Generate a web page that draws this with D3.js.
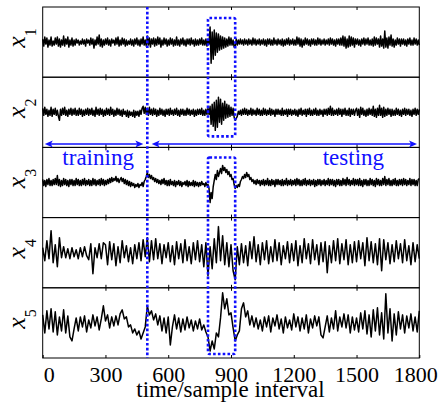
<!DOCTYPE html>
<html><head><meta charset="utf-8">
<script src="https://cdn.jsdelivr.net/npm/d3@7"></script>
<style>body{margin:0;background:#fff}svg{display:block}</style>
</head><body><svg id="c" width="444" height="405"></svg>
<script>
// x1..x3 sampled every 5 time steps, x4..x5 every 10 time steps, t = 0 .. 1800
const x1 = [3,-4,5,-2,4,-5,2,-3,5,-4,1,-3,4,-2,5,
-4,3,-5,2,-3,6,-4,3,-2,5,-5,2,-3,4,-4,
2,-3,3,-1,2,-3,1,-2,3,-2,2,-4,3,-1,2,
-3,4,-2,3,-6,2,-3,5,-2,7,-4,3,-5,2,-3,
3,-2,4,-3,2,-4,3,-1,2,-3,4,-2,5,-4,2,
-3,4,-2,3,-4,2,-3,1,-2,3,-3,2,-4,3,-2,
4,-3,2,-4,3,-2,5,-3,2,-4,6,-3,4,-5,3,
-2,4,-4,3,-3,5,-2,4,-5,2,-3,4,-2,3,-4,
2,-3,4,-2,3,-4,2,-3,5,-3,2,-4,3,-2,4,
-3,2,-4,3,-2,3,-3,4,-2,2,-4,3,-3,2,-3,
3,-2,4,-3,2,-3,3,-4,2,-2,15,-21,10,-17,12,
-13,9,-10,8,-8,6,-7,5,-6,4,-5,3,-4,5,-3,
4,-3,2,-5,-4,3,-3,2,-2,3,-2,2,-3,3,-2,
2,-3,3,-2,2,-3,4,-2,3,-3,2,-2,3,-3,2,
-2,3,-3,2,-4,3,-2,3,-3,2,-3,4,-2,2,-3,
3,-2,2,-3,3,-4,2,-3,3,-2,4,-3,2,-2,3,
-3,2,-3,5,-2,4,-4,3,-5,2,-3,4,-2,3,-3,
2,-4,3,-2,3,-3,2,-3,4,-2,3,-3,2,-2,3,
-3,2,-2,3,-3,4,-2,3,-3,2,-4,3,-2,3,-3,
4,-3,6,-4,5,-6,3,-5,6,-4,5,-3,4,-5,3,
-2,3,-3,2,-4,3,-2,4,-3,3,-2,4,-3,2,-3,
3,-4,5,-3,4,-2,3,-5,6,-4,3,-6,11,-5,4,
-6,5,-3,7,-4,3,-5,2,-3,4,-2,3,-4,3,-2,
3,-3,2,-4,3,-2,4,-3,2,-3,4,-2,3,-3,2,
-3];
const x2 = [4,-3,5,-2,3,-4,2,-3,5,-4,3,-2,4,-3,2,
-4,-8,3,-3,4,-2,5,-3,2,-4,3,-2,4,-3,3,
-2,4,-3,2,-3,4,-2,3,-4,2,-3,3,-2,4,-3,
3,-2,4,-3,2,-4,5,-2,3,-3,4,-2,3,-4,2,
-3,4,-2,3,-3,5,-2,3,-4,2,-3,4,-2,3,-3,
2,-4,3,-2,1,-4,2,-5,1,-3,0,-4,2,-5,1,
-3,1,-4,2,-2,4,6,-1,5,-2,4,-3,5,-2,3,
-3,4,-2,3,-4,2,-3,4,-2,3,-3,2,-4,3,-2,
3,-3,4,-2,2,-3,3,-2,4,-3,2,-4,3,-2,3,
-3,2,-3,4,-2,3,-3,2,-2,3,-4,2,-3,3,-2,
3,-2,4,-3,2,-3,3,-2,4,-2,6,-12,8,-14,10,
-18,12,-15,15,-10,13,-12,9,-8,11,-6,8,-5,7,-4,
5,-3,4,-5,-8,-6,-4,1,-2,2,-3,3,-2,4,-2,
3,-3,2,-2,4,-3,3,-2,2,-3,4,-2,3,-3,2,
-3,4,-2,3,-3,2,-2,4,-3,3,-2,2,-4,3,-2,
3,-2,2,-3,4,-3,2,-2,3,-4,3,-2,3,-3,2,
-2,3,-3,2,-4,3,-2,4,-3,2,-2,3,-4,3,-2,
4,-3,2,-3,3,-2,4,-3,2,-3,3,-2,2,-4,3,
-2,3,-3,4,-2,6,-3,4,-3,2,-2,3,-3,4,-2,
3,-4,3,-2,4,-3,2,-3,4,-4,3,-2,3,-3,2,
4,-3,3,-5,5,-2,4,-3,2,-4,3,-3,4,-2,3,
-3,6,-4,3,-5,4,-3,7,-3,4,-5,5,-4,3,-3,
4,-2,3,-4,3,-3,2,-3,4,-2,3,-3,2,-4,3,
-2,4,-3,3,-2,3,-3,2,-4,3,-2,4,-3,3,-2,
3];
const x3 = [3,-3,2,-4,3,-2,4,-3,2,-3,3,-2,4,-2,7,
-3,3,-4,2,-3,4,-2,3,-3,2,-4,3,-2,3,-3,
2,-3,4,-2,3,-3,2,-3,3,-2,4,-3,2,-2,3,
-3,2,-3,4,-2,3,-3,2,-2,3,-3,4,-2,3,-3,
2,-2,3,-1,4,0,5,1,4,2,6,1,4,0,3,
5,1,4,-1,3,-2,2,-3,1,-4,0,-3,-1,-5,-2,
-4,-1,-5,-2,-3,0,-4,1,3,6,10,5,8,4,7,
3,5,1,4,0,3,-1,2,-2,3,-1,4,-2,2,-3,
2,-3,3,-2,1,-3,2,-4,1,-2,2,-3,1,-4,0,
-2,1,-3,2,-4,1,-3,0,-3,2,-4,1,-3,0,-4,
0,-3,1,-2,-1,-4,0,-3,-2,-6,-20,-10,-16,-4,2,
8,3,12,6,10,14,9,17,12,15,10,13,8,11,6,
8,3,4,-2,-6,-3,-5,-2,-4,1,3,6,4,8,5,
10,6,8,3,5,1,3,-1,2,-2,3,-1,2,-3,2,
-2,3,-3,2,-2,4,-3,2,-3,3,-2,2,-4,3,-2,
3,-2,2,-3,3,-3,2,-2,4,-3,2,-2,3,-3,2,
-2,3,-3,4,-2,3,-3,2,-3,3,-2,4,-3,2,-2,
3,-3,2,-2,3,-4,2,-3,3,-2,3,-3,2,-2,3,
-3,2,-2,4,-3,3,-2,3,-3,2,-4,3,-2,3,-3,
2,-3,4,-2,3,-3,5,-2,3,-3,2,-2,4,-3,3,
-2,3,-3,4,-3,2,-4,3,-2,3,-3,2,-3,4,-2,
3,-3,2,-4,4,-2,3,-3,2,-3,4,-2,6,-3,3,
-2,4,-3,2,-3,3,-2,4,-3,2,-3,3,-2,3,-3,
4,-2,3,-3,2,-2,4,-3,3,-2,3,-3,2,-3,3,
4];
const x4 = [5,-8,12,-6,22,-10,8,-14,15,-5,6,-5,4,-6,5,
-4,3,-6,5,-4,6,-3,-7,9,-21,5,-5,9,-6,10,
8,-12,11,-7,9,-13,6,-10,12,-5,7,-9,5,-11,8,
-6,10,-8,13,-4,15,-9,12,-7,14,-6,9,-11,8,-5,
10,-9,7,-12,11,-6,9,-10,13,-8,6,-11,10,-7,12,
-9,8,-14,10,-23,6,-16,14,-10,26,-8,17,-12,10,-14,
8,-18,-27,6,-12,9,-10,7,-13,11,-6,16,-9,8,-12,
10,-7,12,-11,6,-9,13,-8,10,-12,7,-6,11,-10,9,
-8,12,-13,7,-10,14,-6,9,-11,13,-7,8,-12,10,-9,
11,-20,7,-10,12,-8,14,-11,9,-7,13,-12,8,-10,11,
-9,12,-6,10,-13,15,-8,11,-10,9,-12,14,-18,13,-7,
10,-11,8,-9,12,-6,9,-10,13,-8,7,-12,10,-9,8,-6];
const x5 = [8,-10,12,-6,14,-9,11,-12,6,-8,13,-10,7,-14,-18,
-6,5,-8,6,-4,7,-9,3,-5,8,-3,6,-7,4,17,
2,8,-5,6,-3,7,-2,9,13,4,6,-4,-2,-10,-6,
-12,-8,-16,-10,-4,17,8,12,3,9,-2,7,-8,5,-10,
6,-22,-4,8,-6,5,-9,4,-7,6,-5,3,-8,2,-6,
4,-7,-2,-9,-14,-28,-18,-26,-10,-14,5,30,14,24,8,
10,-5,-18,-12,-8,14,20,6,12,-2,7,-4,5,-6,3,
-8,6,-4,7,-9,5,-3,8,-6,4,-10,6,-5,3,-7,
9,-4,6,-8,5,-6,8,-10,4,-5,7,-3,6,-12,-15,
-4,7,-9,5,-6,12,-8,6,-4,9,-5,8,-10,6,-7,
5,-9,10,-6,12,-11,8,-14,13,-8,15,-12,10,-16,29,
-10,14,-18,9,-12,11,-6,8,-10,7,-5,9,-8,6,-9,12];

const seriesList = [x1, x2, x3, x4, x5];
const seriesLabels = ["1", "2", "3", "4", "5"];
const xTicks = [0, 300, 600, 900, 1200, 1500, 1800];
const xLabel = "time/sample interval";
const splitAt = 500;
const anomaly = [790, 920];
const trainSpan = [10, 481];
const testSpan = [521, 1789];
const trainText = {t: 265, label: "training"};
const testText = {t: 1485, label: "testing"};

(function () {
const svg = d3.select("#c");
const blue = "#1010ff";
const serif = "'Liberation Serif','Times New Roman',serif";
const pLeft = 42.7, pRight = 419.3, pTop = 7, pBottom = 358;
const nP = seriesList.length;
const ph = (pBottom - pTop) / nP;
const x = d3.scaleLinear().domain([0, 1800]).range([pLeft, pRight]);

const yScales = seriesList.map((s, i) =>
  d3.scaleLinear().domain([-35, 35]).range([pTop + (i + 1) * ph, pTop + i * ph]));

seriesList.forEach((s, i) => {
  const y = yScales[i];
  const n = s.length;
  const line = d3.line().x((d, j) => x(j * 1800 / (n - 1))).y(d => y(d));
  svg.append("path").datum(s).attr("d", line)
    .attr("fill", "none").attr("stroke", "#000").attr("stroke-width", 1.5)
    .attr("stroke-linejoin", "round");
});

seriesList.forEach((s, i) => {
  const y0 = pTop + i * ph, y1 = pTop + (i + 1) * ph;
  svg.append("rect").attr("x", pLeft).attr("y", y0).attr("width", pRight - pLeft).attr("height", y1 - y0)
    .attr("fill", "none").attr("stroke", "#000").attr("stroke-width", 1);
  const inner = xTicks.slice(1, -1);
  svg.append("g").attr("transform", `translate(0,${y0})`)
    .call(d3.axisTop(x).tickValues(inner).tickSize(-3).tickSizeOuter(0).tickFormat(""))
    .call(g => g.select(".domain").remove());
  const gb = svg.append("g").attr("transform", `translate(0,${y1})`)
    .call(d3.axisBottom(x).tickValues(i === nP - 1 ? xTicks : inner).tickSize(-3).tickSizeOuter(0)
      .tickPadding(8).tickFormat(d3.format("d")))
    .call(g => g.select(".domain").remove());
  if (i !== nP - 1) gb.selectAll("text").remove();
  else {
    gb.selectAll("text").attr("font-family", serif).attr("font-size", 22).attr("fill", "#000")
      .attr("dx", d => d === 0 ? 6 : d === 1800 ? -4 : 0);
  }
  const cy = (y0 + y1) / 2 - 4;
  const t = svg.append("text").attr("transform", `translate(25,${cy}) rotate(-90)`)
    .attr("text-anchor", "middle").attr("font-family", serif).attr("fill", "#000");
  t.append("tspan").attr("font-style", "italic").attr("font-size", 26).text("x");
  t.append("tspan").attr("font-size", 16).attr("dy", 11).text(seriesLabels[i]);
});
svg.selectAll(".tick line").attr("stroke", "#000");

svg.append("text").attr("x", 230.5).attr("y", 397).attr("text-anchor", "middle")
  .attr("font-family", serif).attr("font-size", 23).attr("fill", "#000").text(xLabel);

svg.append("line").attr("x1", x(splitAt)).attr("x2", x(splitAt)).attr("y1", pTop).attr("y2", pBottom)
  .attr("stroke", blue).attr("stroke-width", 2.6).attr("stroke-dasharray", "2.6,2.2");

function box(yT, yB) {
  svg.append("rect").attr("x", x(anomaly[0])).attr("y", yT)
    .attr("width", x(anomaly[1]) - x(anomaly[0])).attr("height", yB - yT)
    .attr("rx", 1.5)
    .attr("fill", "none").attr("stroke", blue).attr("stroke-width", 2.6).attr("stroke-dasharray", "2.6,2.2");
}
box(yScales[0](24), yScales[1](-24));
box(yScales[2](25), yScales[4](-31));

const ay = 144;
function arrow(a, b) {
  const xa = x(a), xb = x(b);
  svg.append("line").attr("x1", xa + 3).attr("x2", xb - 3).attr("y1", ay).attr("y2", ay)
    .attr("stroke", blue).attr("stroke-width", 1.6);
  svg.append("path").attr("d", `M${xa},${ay} L${xa + 8},${ay - 3.5} L${xa + 6},${ay} L${xa + 8},${ay + 3.5} Z`).attr("fill", blue);
  svg.append("path").attr("d", `M${xb},${ay} L${xb - 8},${ay - 3.5} L${xb - 6},${ay} L${xb - 8},${ay + 3.5} Z`).attr("fill", blue);
}
arrow(trainSpan[0], trainSpan[1]);
arrow(testSpan[0], testSpan[1]);
[trainText, testText].forEach(d => {
  svg.append("text").attr("x", x(d.t)).attr("y", 165).attr("text-anchor", "middle")
    .attr("font-family", serif).attr("font-size", 23).attr("fill", blue).text(d.label);
});
})();
</script></body></html>
